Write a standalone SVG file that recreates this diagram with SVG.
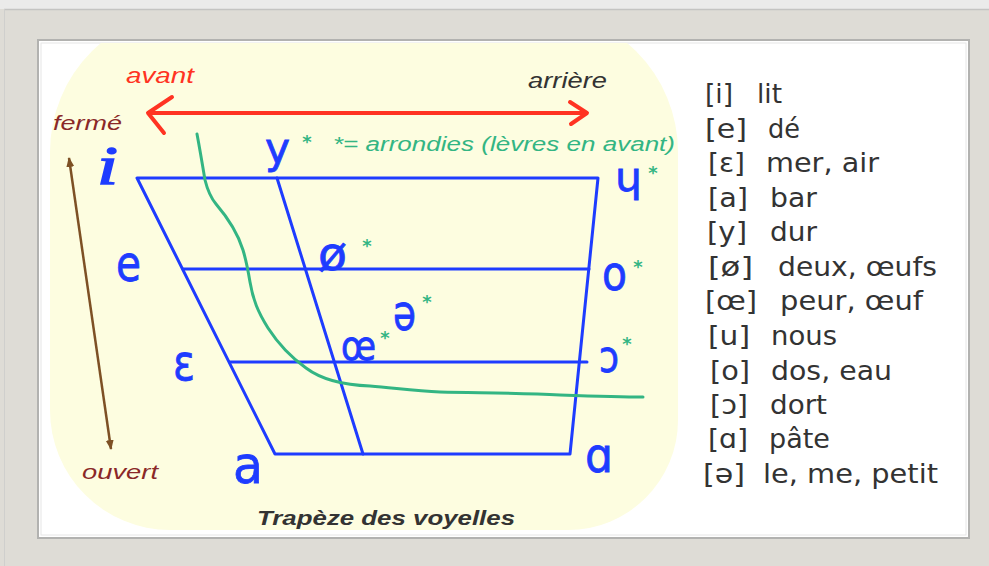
<svg xmlns="http://www.w3.org/2000/svg" width="989" height="566" viewBox="0 0 989 566">
<style>
.blue{fill:none;stroke:#1e3cff;stroke-width:3;stroke-linecap:round;stroke-linejoin:round}
.bl{font-family:"DejaVu Sans",sans-serif;fill:#1e3cff;stroke:#1e3cff;stroke-width:0.8}
.star{font-family:"DejaVu Sans",sans-serif;font-weight:bold;font-size:18px;fill:#33b583;text-anchor:middle}
.lg{font-family:"DejaVu Sans",sans-serif;font-size:27px;fill:#333}
.it{font-family:"Liberation Sans",Arial,sans-serif;font-style:italic}
</style>
<defs>
<clipPath id="panelClip"><rect x="40" y="43" width="927" height="493"/></clipPath>
<marker id="bh" viewBox="0 0 10 10" refX="9" refY="5" markerWidth="4" markerHeight="4" orient="auto-start-reverse" markerUnits="strokeWidth">
<path d="M0,1 L10,5 L0,9 z" fill="#7d5024"/>
</marker>
</defs>
<g id="frame">
<rect x="0" y="0" width="989" height="566" fill="#dedcd6"/>
<rect x="0" y="0" width="989" height="9" fill="#ebebea"/>
<line x1="4" y1="9.5" x2="989" y2="9.5" stroke="#c4c4c2" stroke-width="1.5"/>
<line x1="4.5" y1="9" x2="4.5" y2="566" stroke="#cfcfcd" stroke-width="1"/>
<rect x="38" y="40" width="931" height="498" fill="#ffffff" stroke="#b2b2b0" stroke-width="2"/>
<rect x="41" y="43" width="925" height="492" fill="none" stroke="#e6e6e6" stroke-width="1"/>
</g>
<g id="background" clip-path="url(#panelClip)">
<path d="M192,10 H536 A142,142 0 0 1 678,152 V420 A110,110 0 0 1 568,530 H170 A120,120 0 0 1 50,410 V152 A142,142 0 0 1 192,10 Z" fill="#fdfde0"/>
</g>
<g id="connectors">
<g id="axis-avant-arriere" fill="none" stroke="#ff3322" stroke-width="4" stroke-linecap="round" stroke-linejoin="round">
<line x1="149" y1="113" x2="585" y2="113"/>
<polyline points="172,97 148,113 164,133"/>
<polyline points="570,102 587,113 571,124"/>
</g>
<line id="axis-ferme-ouvert" x1="111" y1="449" x2="69" y2="158" stroke="#7d5024" stroke-width="2.5" marker-start="url(#bh)" marker-end="url(#bh)"/>
<g id="trapeze">
<polygon class="blue" points="137,178 598,178 570,454 275,454"/>
<line class="blue" x1="183" y1="269" x2="589" y2="269"/>
<line class="blue" x1="230" y1="362" x2="587" y2="362"/>
<line class="blue" x1="277" y1="178" x2="363" y2="454"/>
</g>
<path id="arrondies-limit" d="M197,134 C200,150 203,168 205,180 C208,192 211,198 216,204 C228,218 238,234 243,250 C246,260 248,270 250,282 C253,300 258,312 268,328 C279,345 292,358 306,368 C322,380 342,385 370,386 C395,388 415,391 440,392 C480,393 520,393 560,395 C590,396 620,397 643,397" fill="none" stroke="#33b583" stroke-width="3" stroke-linecap="round"/>
</g>
<g id="labels-axes">
<text class="it" x="126" y="83" font-size="22" fill="#ff3322" textLength="68" lengthAdjust="spacingAndGlyphs">avant</text>
<text class="it" x="528" y="88" font-size="22" fill="#333" textLength="79" lengthAdjust="spacingAndGlyphs">arrière</text>
<text class="it" x="53" y="130" font-size="21" fill="#8a2828" textLength="69" lengthAdjust="spacingAndGlyphs">fermé</text>
<text class="it" x="82" y="479" font-size="21" fill="#8a2828" textLength="76" lengthAdjust="spacingAndGlyphs">ouvert</text>
<text class="it" x="333" y="151" font-size="20" fill="#33b583" textLength="342" lengthAdjust="spacingAndGlyphs">*= arrondies (lèvres en avant)</text>
<text class="it" x="257" y="525" font-size="21" font-weight="bold" fill="#333" textLength="258" lengthAdjust="spacingAndGlyphs">Trapèze des voyelles</text>
</g>
<g id="vowel-i"><text x="97" y="184" font-family="Liberation Serif,serif" font-style="italic" font-size="54" fill="#1e3cff" stroke="#1e3cff" stroke-width="1.5" textLength="21" lengthAdjust="spacingAndGlyphs">i</text></g>
<g id="vowel-y"><text class="bl" x="265" y="163" font-size="42" textLength="25" lengthAdjust="spacingAndGlyphs">y</text><text class="star" x="307" y="148">*</text></g>
<g id="vowel-u-turned"><text class="bl" x="615" y="191" font-size="41" textLength="27" lengthAdjust="spacingAndGlyphs">ɥ</text><text class="star" x="653" y="179">*</text></g>
<g id="vowel-e"><text class="bl" x="116" y="281" font-size="50" textLength="25" lengthAdjust="spacingAndGlyphs">e</text></g>
<g id="vowel-o-slash"><text class="bl" x="318" y="270" font-size="46" textLength="29" lengthAdjust="spacingAndGlyphs">ø</text><text class="star" x="367" y="252">*</text></g>
<g id="vowel-o"><text class="bl" x="602" y="290" font-size="48" textLength="25" lengthAdjust="spacingAndGlyphs">o</text><text class="star" x="638" y="273">*</text></g>
<g id="vowel-schwa"><text class="bl" x="393" y="330" font-size="50" textLength="23" lengthAdjust="spacingAndGlyphs">ə</text><text class="star" x="427" y="308">*</text></g>
<g id="vowel-oe"><text class="bl" x="341" y="360" font-size="40" textLength="35" lengthAdjust="spacingAndGlyphs">œ</text><text class="star" x="385" y="344">*</text></g>
<g id="vowel-epsilon"><text class="bl" x="173" y="380" font-size="50" textLength="22" lengthAdjust="spacingAndGlyphs">ε</text></g>
<g id="vowel-open-o"><text class="bl" x="599" y="372" font-size="45" textLength="20" lengthAdjust="spacingAndGlyphs">ɔ</text><text class="star" x="627" y="350">*</text></g>
<g id="vowel-a"><text class="bl" x="233" y="483" font-size="52" textLength="30" lengthAdjust="spacingAndGlyphs">a</text></g>
<g id="vowel-alpha"><text class="bl" x="585" y="472" font-size="48" textLength="28" lengthAdjust="spacingAndGlyphs">ɑ</text></g>
<g id="legend" class="lg">
<text x="705" y="103" textLength="28" lengthAdjust="spacingAndGlyphs">[i]</text><text x="757" y="103" textLength="25" lengthAdjust="spacingAndGlyphs">lit</text>
<text x="705" y="138" textLength="42" lengthAdjust="spacingAndGlyphs">[e]</text><text x="768" y="138" textLength="32" lengthAdjust="spacingAndGlyphs">dé</text>
<text x="708" y="172" textLength="37" lengthAdjust="spacingAndGlyphs">[ε]</text><text x="766" y="172" textLength="113" lengthAdjust="spacingAndGlyphs">mer, air</text>
<text x="708" y="207" textLength="40" lengthAdjust="spacingAndGlyphs">[a]</text><text x="770" y="207" textLength="47" lengthAdjust="spacingAndGlyphs">bar</text>
<text x="707" y="241" textLength="40" lengthAdjust="spacingAndGlyphs">[y]</text><text x="770" y="241" textLength="47" lengthAdjust="spacingAndGlyphs">dur</text>
<text x="708" y="276" textLength="45" lengthAdjust="spacingAndGlyphs">[ø]</text><text x="778" y="276" textLength="159" lengthAdjust="spacingAndGlyphs">deux, œufs</text>
<text x="705" y="310" textLength="52" lengthAdjust="spacingAndGlyphs">[œ]</text><text x="780" y="310" textLength="143" lengthAdjust="spacingAndGlyphs">peur, œuf</text>
<text x="708" y="345" textLength="42" lengthAdjust="spacingAndGlyphs">[u]</text><text x="771" y="345" textLength="66" lengthAdjust="spacingAndGlyphs">nous</text>
<text x="710" y="380" textLength="40" lengthAdjust="spacingAndGlyphs">[o]</text><text x="771" y="380" textLength="121" lengthAdjust="spacingAndGlyphs">dos, eau</text>
<text x="710" y="414" textLength="38" lengthAdjust="spacingAndGlyphs">[ɔ]</text><text x="770" y="414" textLength="57" lengthAdjust="spacingAndGlyphs">dort</text>
<text x="708" y="448" textLength="40" lengthAdjust="spacingAndGlyphs">[ɑ]</text><text x="769" y="448" textLength="61" lengthAdjust="spacingAndGlyphs">pâte</text>
<text x="703" y="483" textLength="42" lengthAdjust="spacingAndGlyphs">[ə]</text><text x="763" y="483" textLength="175" lengthAdjust="spacingAndGlyphs">le, me, petit</text>
</g>
</svg>
